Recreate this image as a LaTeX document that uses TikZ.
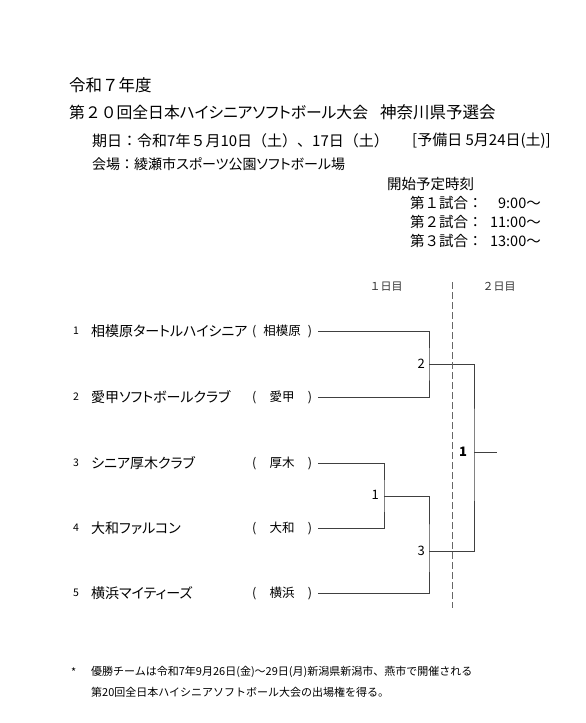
\documentclass[tikz,border=0pt]{standalone}
\usepackage{fontspec}
\newfontfamily\jp[RawFeature=+palt]{Noto Sans CJK JP}
\newfontfamily\jpf{Noto Sans CJK JP}
\begin{document}
\begin{tikzpicture}[x=1pt,y=-1pt,
  txt/.style={inner sep=0pt,anchor=west,text=black},
  title/.style={txt,font=\jpf\fontsize{16.5}{16.5}\selectfont},
  body/.style={txt,font=\jpf\fontsize{14.5}{14.5}\selectfont},
  team/.style={txt,font=\jp\fontsize{14}{14}\selectfont},
  num/.style={inner sep=0pt,font=\jp\fontsize{10.5}{10.5}\selectfont},
  region/.style={txt,font=\jp\fontsize{12.5}{12.5}\selectfont},
  foot/.style={txt,font=\jpf\fontsize{11}{11}\selectfont},
  day/.style={inner sep=0pt,font=\jpf\fontsize{11}{11}\selectfont,text=black!80},
  mnum/.style={inner sep=0pt,anchor=east,font=\jp\fontsize{13}{13}\selectfont},
  br/.style={draw=black!75,line width=1pt},
  dl/.style={draw=black!60,line width=0.9pt,dash pattern=on 7pt off 3pt}]
\fill[white] (0,0) rectangle (586,723);
\useasboundingbox (0,0) rectangle (586,723);
% header
\node[title] (t1) at (69,85) {令和７年度};
\node[title,font=\jpf\fontsize{15.8}{15.8}\selectfont] (t2) at (69,112) {第２０回全日本{\jp ハイシニアソフトボール}大会};
\node[title] (t3) at (380,112) {神奈川県予選会};
\node[body,font=\jpf\fontsize{15}{15}\selectfont] (d1) at (92,141) {期日：令和7年５月10日（土）、17日（土）};
\node[body,font=\jpf\fontsize{15}{15}\selectfont] (d2) at (412,141) {[予備日 5月24日(土)]};
\node[body,font=\jpf\fontsize{14}{14}\selectfont] (v1) at (92,164) {会場：綾瀬市{\jp スポーツ}公園{\jp ソフトボール}場};
\node[body] (s0) at (387,184) {開始予定時刻};
\node[body] (s1) at (410,203) {第１試合：};
\node[body] (s2) at (410,222) {第２試合：};
\node[body] (s3) at (410,241) {第３試合：};
\node[body,anchor=east] (s1t) at (541,203) {9:00～};
\node[body,anchor=east] (s2t) at (541,222) {11:00～};
\node[body,anchor=east] (s3t) at (541,241) {13:00～};
% day labels
\node[day] (day1) at (386,287) {１日目};
\node[day] (day2) at (499,287) {２日目};
% teams
\foreach \i/\y/\name/\reg in {1/331/相模原タートルハイシニア/相模原,2/397/愛甲ソフトボールクラブ/愛甲,3/463/シニア厚木クラブ/厚木,4/528/大和ファルコン/大和,5/593/横浜マイティーズ/横浜}{
  \node[num] (n\i) at (76,\y) {\i};
  \node[team] (tm\i) at (91,\y) {\name};
  \node[region] (r\i) at (252,\y) {\makebox[60pt]{(\hfill\reg\hfill)}};
  \coordinate (a\i) at (318,\y);
}
% bracket coordinates
\coordinate (m2) at (429,364);
\coordinate (m1) at (384,496);
\coordinate (m3) at (429,551);
\coordinate (f) at (474,452);
\coordinate (fe) at (497,452);
\draw[br] (a1) -| (m2) |- (a2);
\draw[br] (a3) -| (m1) |- (a4);
\draw[br] (m1) -| (m3) |- (a5);
\draw[br] (m2) -| (f) |- (m3);
\draw[br] (f) -- (fe);
\node[mnum] (l2) at (425,364) {2};
\node[mnum] (l1) at (379,495) {1};
\node[mnum] (l3) at (425,551) {3};
\node[inner sep=0pt,font=\jp\bfseries\fontsize{13}{13}\selectfont] (lf) at (463,452) {1};
% dashed day divider
\coordinate (dt) at (452,282);
\coordinate (db) at (452,608);
\draw[dl] (dt) -- (db);
% footnote
\node[foot] (fs) at (71,672) {*};
\node[foot] (f1) at (91,672) {優勝チームは令和7年9月26日(金)～29日(月)新潟県新潟市、燕市で開催される};
\node[foot] (f2) at (91,692) {第20回全日本ハイシニアソフトボール大会の出場権を得る。};
\end{tikzpicture}
\end{document}
